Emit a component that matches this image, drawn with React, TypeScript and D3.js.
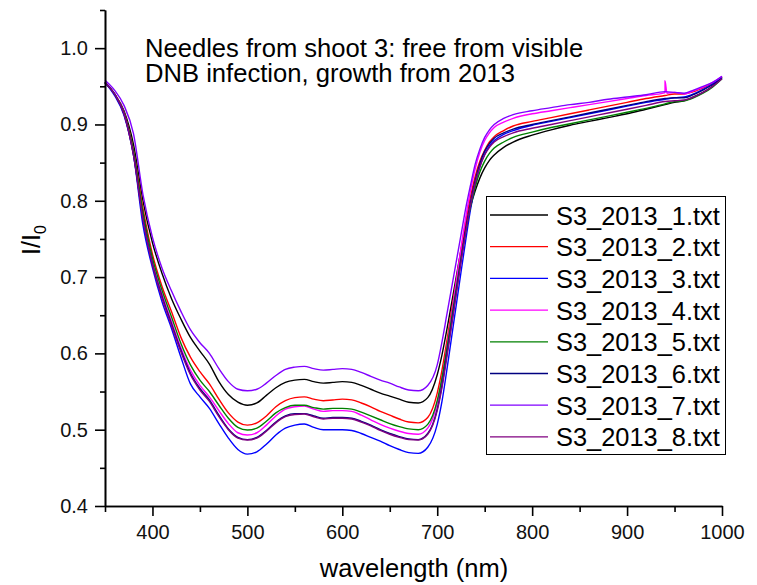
import React, { useEffect, useRef } from "react";
import * as d3 from "d3";

const WL = [350,360,370,380,390,400,410,420,430,440,450,460,470,480,490,500,510,520,530,540,550,560,570,580,590,600,610,620,630,640,650,660,670,680,690,700,705,710,715,720,725,730,735,740,745,750,755,760,770,780,800,820,840,860,880,900,920,940,950,960,970,980,990,1000];

const S1 = [.955,.940,.918,.874,.800,.745,.705,.672,.645,.621, .603,.586,.563,.546,.536,.532,.535,.545,.555,.562, .565,.566,.563,.561,.562,.563,.562,.558,.553,.548, .544,.540,.536,.535,.542,.572, .598,.630,.665,.700,.735,.765,.792,.813,.830,.843,.853,.860, .870,.877, .886,.893,.899,.904,.909,.914,.920,.926, .929,.931,.936,.942,.950,.962];
const S2 = [.955,.940,.916,.866,.790,.730,.688,.655,.621,.595, .576,.560,.540,.522,.510,.506,.509,.518,.530,.538, .542,.543,.540,.538,.539,.540,.539,.535,.530,.524, .519,.514,.510,.509,.516,.548, .578,.615,.655,.695,.735,.772,.805,.832,.852,.866,.877,.884, .892,.898, .904,.909,.914,.919,.924,.929,.934,.938, .940,.940,.943,.948,.954,.962];
const S3 = [.955,.938,.912,.860,.768,.712,.668,.633,.595,.560, .543,.528,.508,.489,.474,.468,.471,.481,.493,.502, .506,.5075,.503,.500,.500,.500,.499,.495,.490,.485, .479,.474,.470,.469,.477,.507, .537,.577,.620,.663,.706,.748,.788,.820,.845,.861,.872,.879, .887,.892, .899,.904,.909,.914,.919,.924,.929,.933, .935,.936,.940,.946,.953,.961];
const S4 = [.955,.940,.915,.862,.780,.720,.678,.642,.607,.578, .558,.543,.525,.508,.496,.493,.496,.506,.518,.527, .530,.531,.527,.524,.525,.525,.524,.519,.513,.507, .502,.498,.495,.494,.502,.535, .567,.607,.650,.694,.738,.778,.813,.842,.864,.879,.889,.896, .903,.908, .914,.918,.922,.926,.930,.934,.938,.942, .942,.940,.944,.949,.955,.963];
const S4_SPIKE_WL = [938, 940, 942];
const S4_SPIKE = [.941, .957, .941];
const S5 = [.955,.940,.915,.865,.785,.725,.683,.648,.613,.585, .565,.550,.532,.515,.503,.4995,.502,.511,.522,.529, .532,.532,.529,.527,.528,.528,.527,.523,.518,.513, .508,.504,.501,.500,.507,.538, .568,.605,.645,.685,.724,.760,.792,.818,.838,.852,.862,.869, .877,.883, .890,.896,.901,.906,.911,.916,.921,.927, .930,.931,.935,.941,.949,.960];
const S6 = [.955,.940,.914,.860,.777,.717,.675,.639,.604,.574, .554,.539,.519,.501,.490,.487,.490,.499,.510,.518, .521,.521,.518,.515,.516,.516,.515,.511,.506,.500, .495,.491,.488,.487,.495,.527, .558,.597,.638,.680,.722,.762,.798,.827,.849,.865,.875,.882, .889,.894, .900,.905,.910,.915,.920,.925,.930,.934, .935,.935,.939,.945,.952,.961];
const S7 = [.958,.945,.925,.888,.808,.752,.712,.682,.655,.631, .614,.600,.580,.563,.553,.551,.553,.561,.571,.579, .582,.583,.580,.578,.579,.580,.579,.575,.570,.565, .561,.556,.552,.551,.558,.585, .615,.650,.685,.720,.755,.790,.820,.848,.868,.883,.893,.900, .908,.913, .918,.922,.926,.929,.933,.936,.939,.943, .942,.941,.945,.950,.955,.963];
const S8 = [.955,.940,.914,.860,.776,.716,.673,.637,.602,.572, .552,.537,.517,.500,.489,.4865,.489,.498,.509,.517, .520,.5206,.517,.514,.515,.515,.514,.510,.505,.499, .494,.490,.487,.4865,.494,.525, .555,.594,.635,.677,.719,.759,.794,.823,.845,.860,.870,.877, .884,.889, .895,.900,.905,.910,.915,.920,.925,.930, .931,.932,.936,.942,.950,.960];

const NAMES = ["S3_2013_1.txt","S3_2013_2.txt","S3_2013_3.txt","S3_2013_4.txt","S3_2013_5.txt","S3_2013_6.txt","S3_2013_7.txt","S3_2013_8.txt"];
const COLORS = ["#000000","#ff0000","#0000ff","#ff00ff","#008000","#000080","#8000ff","#800080"];
const X_MAJOR = [400,500,600,700,800,900,1000];
const X_MINOR = [350,450,550,650,750,850,950];
const Y_MAJOR = [0.4,0.5,0.6,0.7,0.8,0.9,1.0];
const Y_MINOR = [0.45,0.55,0.65,0.75,0.85,0.95,1.05];
const NOTE = ["Needles from shoot 3: free from visible", "DNB infection, growth from 2013"];

const FONT = "'Liberation Sans', Arial, Helvetica, sans-serif";

export default function App() {
  const ref = useRef<SVGSVGElement>(null);
  useEffect(() => {
    const svg = d3.select(ref.current);
    svg.selectAll("*").remove();
    const x = d3.scaleLinear().domain([350, 1000]).range([105, 722]);
    const y = d3.scaleLinear().domain([0.4, 1.05]).range([506, 10]);

    const seriesVals = [S1, S2, S3, S4, S5, S6, S7, S8];
    const line = d3.line<[number, number]>().x(d => x(d[0])).y(d => y(d[1])).curve(d3.curveMonotoneX);
    const g = svg.append("g");
    seriesVals.forEach((vals, i) => {
      let pts: [number, number][] = WL.map((w, j) => [w, vals[j]]);
      if (i === 3) {
        S4_SPIKE_WL.forEach((w, k) => pts.push([w, S4_SPIKE[k]]));
        pts.sort((a, b) => a[0] - b[0]);
      }
      g.append("path").attr("d", line(pts)).attr("fill", "none")
        .attr("stroke", COLORS[i]).attr("stroke-width", 1.4);
    });

    // axes
    const xa = svg.append("g").attr("transform", "translate(0,506)");
    xa.call(d3.axisBottom(x).tickValues(X_MAJOR).tickSize(10).tickSizeOuter(0).tickPadding(9).tickFormat(d3.format("d")));
    const xm = svg.append("g").attr("transform", "translate(0,506)");
    xm.call(d3.axisBottom(x).tickValues(X_MINOR).tickSize(6).tickSizeOuter(0).tickFormat(() => ""));
    const ya = svg.append("g").attr("transform", "translate(105,0)");
    ya.call(d3.axisLeft(y).tickValues(Y_MAJOR).tickSize(10).tickSizeOuter(0).tickPadding(7).tickFormat(d3.format(".1f")));
    const ym = svg.append("g").attr("transform", "translate(105,0)");
    ym.call(d3.axisLeft(y).tickValues(Y_MINOR).tickSize(5).tickSizeOuter(0).tickFormat(() => ""));
    svg.selectAll(".domain").attr("stroke", "#000").attr("stroke-width", 1.6);
    svg.selectAll(".tick line").attr("stroke", "#000").attr("stroke-width", 1.6);
    svg.selectAll(".tick text").attr("font-size", 20).attr("font-family", FONT).attr("fill", "#111");

    // axis titles
    svg.append("text").attr("x", 414).attr("y", 577).attr("text-anchor", "middle")
      .attr("font-size", 25.5).attr("font-family", FONT).text("wavelength (nm)");
    const yt = svg.append("text").attr("transform", "translate(40,240) rotate(-90)")
      .attr("text-anchor", "middle").attr("font-size", 25).attr("font-family", FONT);
    yt.append("tspan").text("I/I");
    yt.append("tspan").attr("font-size", 16).attr("dy", 6).text("0");

    // annotation
    NOTE.forEach((t, i) => {
      svg.append("text").attr("x", 145).attr("y", 56.5 + i * 25.5).attr("font-size", 25.6)
        .attr("font-family", FONT).text(t);
    });

    // legend
    const lg = svg.append("g");
    lg.append("rect").attr("x", 486.5).attr("y", 196.5).attr("width", 239).attr("height", 258)
      .attr("fill", "#fff").attr("stroke", "#000").attr("stroke-width", 1);
    NAMES.forEach((n, i) => {
      const cy = 215 + i * 31.7;
      lg.append("line").attr("x1", 490).attr("x2", 548).attr("y1", cy).attr("y2", cy)
        .attr("stroke", COLORS[i]).attr("stroke-width", 1.3);
      lg.append("text").attr("x", 556).attr("y", cy + 9.5).attr("font-size", 25.4)
        .attr("font-family", FONT).text(n);
    });
  }, []);
  return (
    <svg ref={ref} width={757} height={585} style={{ position: "absolute", left: 0, top: 0, background: "#fff" }} />
  );
}
